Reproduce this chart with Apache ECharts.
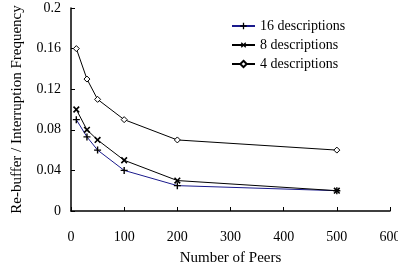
<!DOCTYPE html>
<html>
<head>
<meta charset="utf-8">
<script src="https://cdn.jsdelivr.net/npm/echarts@6/dist/echarts.min.js"></script>
<style>
  html, body { margin: 0; padding: 0; background: #fff; }
  #chart { width: 398px; height: 267px; }
</style>
</head>
<body>
<div id="chart"></div>
<script>
// peers on x axis
var peers = [10, 30, 50, 100, 200, 500];
var desc16 = [0.09, 0.073, 0.06, 0.04, 0.025, 0.02];
var desc8 = [0.10, 0.08, 0.07, 0.05, 0.03, 0.02];
var desc4 = [0.16, 0.13, 0.11, 0.09, 0.07, 0.06];

function pairs(vals) {
  return peers.map(function (p, i) { return [p, vals[i]]; });
}

var plusPath = 'path://M4,0L6,0L6,4L10,4L10,6L6,6L6,10L4,10L4,6L0,6L0,4L4,4Z';
var font = 'Liberation Serif';

var chart = echarts.init(document.getElementById('chart'));

chart.setOption({
  animation: false,
  textStyle: { fontFamily: font },
  grid: { left: 71, right: 8, top: 8, bottom: 56, outerBoundsMode: 'none', containLabel: false },
  legend: {
    orient: 'vertical',
    left: 226,
    top: 14,
    itemGap: 5,
    itemWidth: 23,
    itemHeight: 8,
    textStyle: { fontFamily: font, fontSize: 14, color: '#000' },
    data: ['16 descriptions', '8 descriptions', '4 descriptions']
  },
  xAxis: {
    type: 'value',
    min: 0,
    max: 600,
    interval: 100,
    name: 'Number of Peers',
    nameLocation: 'middle',
    nameGap: 40,
    nameTextStyle: { fontFamily: font, fontSize: 15, color: '#000' },
    axisLine: { lineStyle: { color: '#000', width: 1.5 } },
    axisTick: { inside: true, length: 4, lineStyle: { color: '#000' } },
    axisLabel: { fontFamily: font, fontSize: 14, color: '#000', margin: 19 },
    splitLine: { show: false }
  },
  yAxis: {
    type: 'value',
    min: 0,
    max: 0.2,
    interval: 0.04,
    name: 'Re-buffer / Interruption Frequency',
    nameLocation: 'middle',
    nameGap: 46,
    nameTextStyle: { fontFamily: font, fontSize: 15, color: '#000' },
    axisLine: { show: true, lineStyle: { color: '#000', width: 1.5 } },
    axisTick: { show: true, inside: true, length: 4, lineStyle: { color: '#000' } },
    axisLabel: {
      fontFamily: font, fontSize: 14, color: '#000', margin: 10,
      formatter: function (v) { return String(Math.round(v * 100) / 100); }
    },
    splitLine: { show: false }
  },
  series: [
    {
      name: '16 descriptions',
      type: 'line',
      data: pairs(desc16),
      symbol: plusPath,
      symbolSize: 7,
      lineStyle: { color: '#1a1a8c', width: 1 },
      itemStyle: { color: '#000' }
    },
    {
      name: '8 descriptions',
      type: 'line',
      data: pairs(desc8),
      symbol: plusPath,
      symbolSize: 8,
      symbolRotate: 45,
      lineStyle: { color: '#000', width: 1 },
      itemStyle: { color: '#000' }
    },
    {
      name: '4 descriptions',
      type: 'line',
      data: pairs(desc4),
      symbol: 'diamond',
      symbolSize: 6,
      lineStyle: { color: '#000', width: 1 },
      itemStyle: { color: '#fff', borderColor: '#000', borderWidth: 1 }
    }
  ]
});
</script>
</body>
</html>
